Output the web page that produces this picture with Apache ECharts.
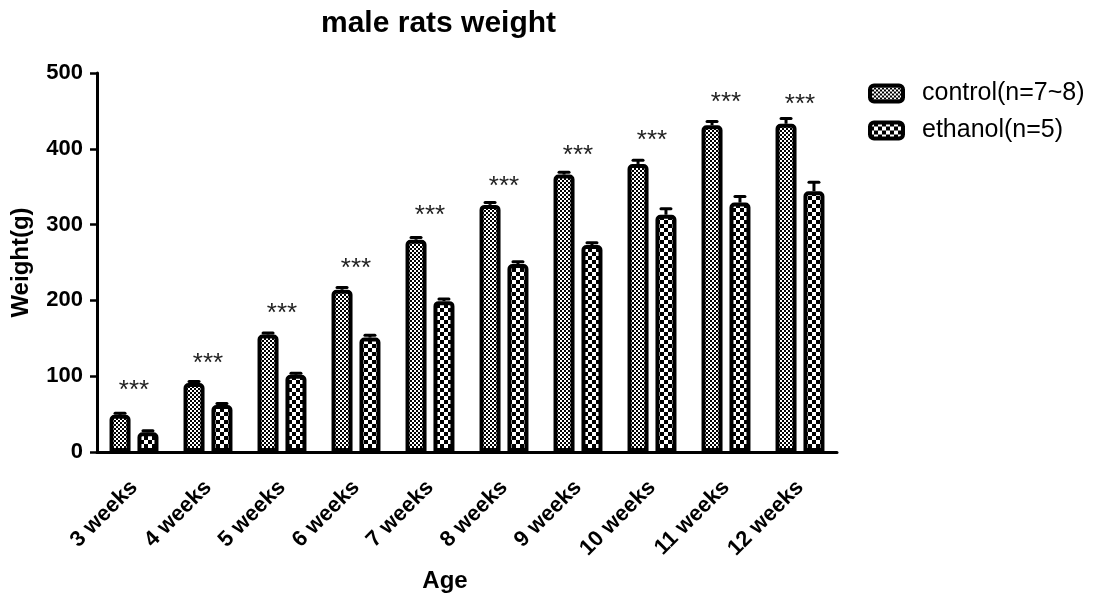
<!DOCTYPE html>
<html>
<head>
<meta charset="utf-8">
<script src="https://cdn.jsdelivr.net/npm/echarts@6/dist/echarts.min.js"></script>
<style>html,body{margin:0;padding:0;background:#fff}#c{width:1104px;height:599px}</style>
</head>
<body>
<div id="c"></div>
<script>
var categories = ['3 weeks','4 weeks','5 weeks','6 weeks','7 weeks','8 weeks','9 weeks','10 weeks','11 weeks','12 weeks'];
var controlValues = [49, 91, 155, 214, 280, 326, 366, 380, 431, 433];
var controlErrors = [2, 2, 2, 3, 3, 3, 3, 5, 5, 7];
var ethanolValues = [26, 62, 102, 151, 199, 248, 273, 313, 329, 344];
var ethanolErrors = [2, 2, 2, 3, 3, 3, 3, 8, 8, 12];
var starLevels = [84, 120, 186, 246, 316, 354, 395, 414, 465, 462];
var yTicks = [0, 100, 200, 300, 400, 500];

var FONT = 'Arial, "Liberation Sans", sans-serif';
var BAR_W = 21, BAR_GAP = 0.33;

function pattern(cell) {
  var c = document.createElement('canvas');
  c.width = cell * 2; c.height = cell * 2;
  var g = c.getContext('2d');
  g.fillStyle = '#000'; g.fillRect(0, 0, cell * 2, cell * 2);
  g.fillStyle = '#fff';
  g.fillRect(0, 0, cell, cell);
  g.fillRect(cell, cell, cell, cell);
  return { image: c, repeat: 'repeat' };
}
var fineFill = pattern(2);
var coarseFill = pattern(4);

var offset = (BAR_W * (1 + BAR_GAP)) / 2;

function errData(vals, errs) {
  return vals.map(function (v, i) { return [i, v, v + errs[i]]; });
}
function errRender(dir) {
  return function (params, api) {
    var i = api.value(0);
    var p0 = api.coord([i, api.value(1)]);
    var p1 = api.coord([i, api.value(2)]);
    var x = p0[0] + dir * offset;
    return {
      type: 'group',
      children: [
        { type: 'line', shape: { x1: x, y1: p0[1], x2: x, y2: p1[1] }, style: { stroke: '#000', lineWidth: 3 } },
        { type: 'line', shape: { x1: x - 5, y1: p1[1], x2: x + 5, y2: p1[1] }, style: { stroke: '#000', lineWidth: 3, lineCap: 'round' } }
      ]
    };
  };
}

var chart = echarts.init(document.getElementById('c'));
chart.setOption({
  animation: false,
  backgroundColor: '#fff',
  title: {
    text: 'male rats weight', left: 316, top: 4,
    textStyle: { fontFamily: FONT, fontWeight: 'bold', fontSize: 30, color: '#000' }
  },
  legend: {
    data: ['control(n=7~8)', 'ethanol(n=5)'],
    orient: 'vertical', left: 863, top: 76,
    itemWidth: 33, itemHeight: 16, itemGap: 12,
    icon: 'roundRect',
    itemStyle: { borderColor: '#000', borderWidth: 4 },
    textStyle: { fontFamily: FONT, fontSize: 25, color: '#000', padding: [0, 0, 0, 14] }
  },
  grid: { left: 97, right: 267, top: 73, bottom: 147 },
  xAxis: {
    type: 'category', data: categories,
    name: 'Age', nameLocation: 'middle', nameGap: 117,
    nameTextStyle: { fontFamily: FONT, fontWeight: 'bold', fontSize: 24, color: '#000', padding: [0, 44, 0, 0] },
    axisLine: { lineStyle: { color: '#000', width: 3 } },
    axisTick: { alignWithLabel: true, length: 10, lineStyle: { color: '#000', width: 2.5 } },
    axisLabel: { rotate: 45, margin: 32, fontFamily: FONT, fontWeight: 'bold', fontSize: 22, color: '#000' }
  },
  yAxis: {
    type: 'value', min: yTicks[0], max: yTicks[yTicks.length - 1], interval: 100,
    name: 'Weight(g)', nameLocation: 'middle', nameGap: 64,
    nameTextStyle: { fontFamily: FONT, fontWeight: 'bold', fontSize: 24, color: '#000' },
    splitLine: { show: false },
    axisLine: { show: true, lineStyle: { color: '#000', width: 3 } },
    axisTick: { show: true, length: 7, lineStyle: { color: '#000', width: 2.5 } },
    axisLabel: { margin: 14, fontFamily: FONT, fontWeight: 'bold', fontSize: 22, color: '#000' }
  },
  series: [
    {
      name: 'control(n=7~8)', type: 'bar', data: controlValues,
      barWidth: BAR_W, barGap: (BAR_GAP * 100) + '%',
      itemStyle: { color: fineFill, borderColor: '#000', borderWidth: 4, borderRadius: [3, 3, 0, 0] }
    },
    {
      name: 'ethanol(n=5)', type: 'bar', data: ethanolValues,
      barWidth: BAR_W,
      itemStyle: { color: coarseFill, borderColor: '#000', borderWidth: 4, borderRadius: [3, 3, 0, 0] }
    },
    { type: 'custom', data: errData(controlValues, controlErrors), renderItem: errRender(-1), z: 5 },
    { type: 'custom', data: errData(ethanolValues, ethanolErrors), renderItem: errRender(1), z: 5 },
    {
      type: 'custom', z: 6,
      data: starLevels.map(function (v, i) { return [i, v]; }),
      renderItem: function (params, api) {
        var p = api.coord([api.value(0), api.value(1)]);
        return { type: 'text', style: { text: '***', x: p[0], y: p[1] + 3, align: 'center', verticalAlign: 'middle', font: '26px ' + FONT, fill: '#222' } };
      }
    }
  ]
});
</script>
</body>
</html>
